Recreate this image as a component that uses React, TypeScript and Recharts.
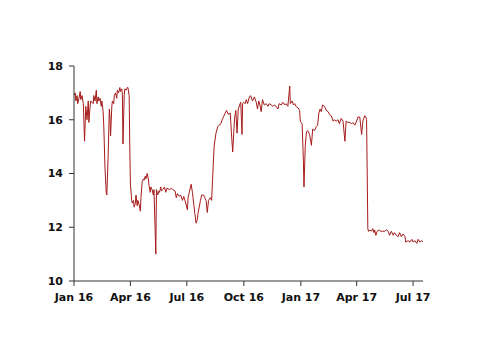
import React from 'react';
import { LineChart, Line, XAxis, YAxis } from 'recharts';

const obsDates = [
    '2016-01-01', '2016-01-03', '2016-01-04', '2016-01-06', '2016-01-07', '2016-01-09', '2016-01-11', '2016-01-12',
    '2016-01-14', '2016-01-16', '2016-01-18', '2016-01-20', '2016-01-22', '2016-01-24', '2016-01-25', '2016-01-27',
    '2016-01-28', '2016-02-01', '2016-02-02', '2016-02-04', '2016-02-06', '2016-02-07', '2016-02-09', '2016-02-10',
    '2016-02-12', '2016-02-14', '2016-02-15', '2016-02-17', '2016-02-18', '2016-02-20', '2016-02-22', '2016-02-23',
    '2016-02-25', '2016-02-27', '2016-02-28', '2016-02-29', '2016-03-02', '2016-03-03', '2016-03-05', '2016-03-06',
    '2016-03-08', '2016-03-10', '2016-03-11', '2016-03-13', '2016-03-15', '2016-03-16', '2016-03-18', '2016-03-19',
    '2016-03-20', '2016-03-22', '2016-03-23', '2016-03-25', '2016-03-27', '2016-03-28', '2016-03-30', '2016-03-31',
    '2016-04-01', '2016-04-03',
    '2016-04-04', '2016-04-06', '2016-04-07', '2016-04-09', '2016-04-10', '2016-04-12', '2016-04-13', '2016-04-15',
    '2016-04-17', '2016-04-18', '2016-04-20', '2016-04-22', '2016-04-23', '2016-04-25', '2016-04-26', '2016-04-28',
    '2016-04-30', '2016-05-01', '2016-05-03', '2016-05-04', '2016-05-06', '2016-05-08', '2016-05-09', '2016-05-12',
    '2016-05-13', '2016-05-15', '2016-05-17', '2016-05-18', '2016-05-20', '2016-05-21', '2016-05-23', '2016-05-26',
    '2016-05-28', '2016-05-30', '2016-06-03', '2016-06-06', '2016-06-09', '2016-06-12', '2016-06-14', '2016-06-16',
    '2016-06-19', '2016-06-21', '2016-06-24', '2016-06-26', '2016-06-28', '2016-07-02', '2016-07-03',
    '2016-07-05', '2016-07-08', '2016-07-10', '2016-07-11', '2016-07-14', '2016-07-16', '2016-07-18', '2016-07-19',
    '2016-07-21', '2016-07-23', '2016-07-25', '2016-07-28', '2016-07-30', '2016-08-01', '2016-08-03', '2016-08-05',
    '2016-08-08', '2016-08-10', '2016-08-12', '2016-08-14', '2016-08-17', '2016-08-20', '2016-08-22', '2016-08-25',
    '2016-08-27', '2016-08-29', '2016-09-01', '2016-09-03', '2016-09-06', '2016-09-09', '2016-09-11', '2016-09-13',
    '2016-09-16', '2016-09-18', '2016-09-20', '2016-09-22', '2016-09-25', '2016-09-26', '2016-09-28', '2016-09-29',
    '2016-10-01', '2016-10-03', '2016-10-05', '2016-10-07', '2016-10-10', '2016-10-12', '2016-10-15', '2016-10-18',
    '2016-10-21', '2016-10-23', '2016-10-25', '2016-10-27', '2016-10-29', '2016-10-31', '2016-11-03', '2016-11-06',
    '2016-11-09', '2016-11-11', '2016-11-14', '2016-11-17', '2016-11-19', '2016-11-22', '2016-11-25', '2016-11-27',
    '2016-11-30', '2016-12-03', '2016-12-06', '2016-12-08', '2016-12-11', '2016-12-14', '2016-12-15', '2016-12-18',
    '2016-12-20', '2016-12-22', '2016-12-24', '2016-12-27', '2016-12-30', '2016-12-31',
    '2017-01-03', '2017-01-05', '2017-01-06', '2017-01-08', '2017-01-10', '2017-01-12', '2017-01-15', '2017-01-18',
    '2017-01-20', '2017-01-23', '2017-01-26', '2017-01-28', '2017-01-30', '2017-02-01', '2017-02-03', '2017-02-05',
    '2017-02-08', '2017-02-11', '2017-02-14', '2017-02-16', '2017-02-19', '2017-02-22', '2017-02-24', '2017-02-27',
    '2017-03-02', '2017-03-04', '2017-03-07', '2017-03-10', '2017-03-13', '2017-03-15', '2017-03-18', '2017-03-21',
    '2017-03-24', '2017-03-26', '2017-03-29', '2017-04-01', '2017-04-03', '2017-04-06', '2017-04-09', '2017-04-11',
    '2017-04-14', '2017-04-16',
    '2017-04-17', '2017-04-19', '2017-04-20', '2017-04-23', '2017-04-25', '2017-04-27', '2017-04-29', '2017-04-30',
    '2017-05-02', '2017-05-04', '2017-05-07', '2017-05-10', '2017-05-13', '2017-05-16', '2017-05-19', '2017-05-22',
    '2017-05-24', '2017-05-27', '2017-05-30', '2017-06-01', '2017-06-04', '2017-06-07', '2017-06-09', '2017-06-12',
    '2017-06-15', '2017-06-18', '2017-06-19', '2017-06-23', '2017-06-26', '2017-06-29', '2017-07-01', '2017-07-04',
    '2017-07-07', '2017-07-09', '2017-07-12', '2017-07-15', '2017-07-17',
];

const obsValues = [
    16.9, 17.0, 16.7, 16.9, 16.6, 16.8, 17.05, 16.75,
    16.9, 16.6, 15.2, 16.5, 16.0, 16.7, 15.9, 16.5,
    16.7, 16.6, 16.9, 16.7, 17.1, 16.6, 16.85, 16.7,
    16.8, 16.5, 16.7, 16.3, 15.8, 14.2, 13.3, 13.2,
    14.6, 16.4, 16.1, 15.4, 16.5, 16.7, 16.6, 16.9,
    17.0, 16.8, 17.1, 17.0, 17.2, 17.05, 17.15, 17.0,
    15.1, 16.9, 17.15, 17.1, 17.2, 17.2, 16.9, 15.0,
    13.6, 13.0,
    12.9, 13.0, 12.75, 12.9, 13.2, 12.8, 13.0, 12.85,
    12.6, 13.1, 13.7, 13.8, 13.75, 13.9, 13.8, 14.0,
    13.8, 13.55, 13.3, 13.5, 13.4, 13.2, 13.4, 11.0,
    13.4, 13.2, 13.35, 13.3, 13.5, 13.35, 13.4, 13.5,
    13.3, 13.45, 13.4, 13.45, 13.4, 13.35, 13.1, 13.25,
    13.15, 13.2, 13.0, 13.15, 13.0, 12.65, 13.1,
    13.3, 13.6, 13.3, 13.1, 12.5, 12.15, 12.3, 12.5,
    12.75, 13.0, 13.2, 13.2, 13.1, 13.0, 12.55, 13.0,
    13.1, 13.0, 14.0, 15.0, 15.5, 15.75, 15.8, 15.85,
    16.0, 16.1, 16.25, 16.35, 16.2, 16.25, 15.5, 14.8,
    16.05, 16.35, 15.5, 16.4, 16.6, 16.65, 15.45, 16.6,
    16.65, 16.6, 16.75, 16.6, 16.85, 16.9, 16.7, 16.85,
    16.65, 16.4, 16.7, 16.55, 16.3, 16.75, 16.55, 16.6,
    16.5, 16.6, 16.55, 16.5, 16.55, 16.5, 16.4, 16.6,
    16.55, 16.65, 16.55, 16.6, 16.5, 17.25, 16.6, 16.7,
    16.55, 16.6, 16.5, 16.45, 16.35, 15.95,
    15.85, 14.5, 13.5, 15.0, 15.55, 15.6, 15.45, 15.05,
    15.65, 15.6, 15.75, 15.8, 16.25, 16.4, 16.3, 16.55,
    16.5, 16.35, 16.3, 16.2, 16.15, 15.95, 16.0, 15.95,
    16.0, 15.85, 16.05, 15.95, 15.2, 15.95, 15.9, 15.9,
    15.85, 15.9, 15.8, 15.95, 16.1, 16.1, 15.45, 15.95,
    16.15, 16.1,
    16.0, 11.95, 11.85, 11.9, 11.85, 11.95, 11.8, 11.9,
    11.7, 11.85, 11.9, 11.85, 11.85, 11.85, 11.9, 11.85,
    11.7, 11.85, 11.7, 11.8, 11.7, 11.65, 11.8, 11.65,
    11.75, 11.65, 11.45, 11.5, 11.45, 11.55, 11.45, 11.5,
    11.4, 11.55, 11.45, 11.5, 11.45,
];

const tickDates = ['2016-01-01', '2016-04-01', '2016-07-01', '2016-10-01', '2017-01-01', '2017-04-01', '2017-07-01'];
const tickLabels = ['Jan 16', 'Apr 16', 'Jul 16', 'Oct 16', 'Jan 17', 'Apr 17', 'Jul 17'];
const yTicks = [10, 12, 14, 16, 18];
const xRange = ['2016-01-01', '2017-07-17'];

const toTime = (d: string) => Date.parse(d + 'T00:00:00Z');
const tickTimes = tickDates.map(toTime);
const data = obsDates.map((d, i) => ({ t: toTime(d), value: obsValues[i] }));

const tickStyle = { fill: '#111', fontSize: 11, fontWeight: 'bold', fontFamily: 'DejaVu Sans' };

export default function App() {
    return (
        <div style={{ width: 500, height: 354, background: '#fff' }}>
            <style>{'body { margin: 0; }'}</style>
            <LineChart width={500} height={354} data={data} margin={{ top: 66, right: 77, bottom: 43, left: 0 }}>
                <XAxis
                    dataKey="t"
                    type="number"
                    scale="time"
                    domain={[toTime(xRange[0]), toTime(xRange[1])]}
                    ticks={tickTimes}
                    interval={0}
                    tickFormatter={(v: number) => tickLabels[tickTimes.indexOf(v)] ?? ''}
                    stroke="#333"
                    tick={tickStyle}
                    tickSize={5}
                    tickMargin={7}
                    height={30}
                    allowDataOverflow
                />
                <YAxis
                    domain={[10, 18]}
                    ticks={yTicks}
                    interval={0}
                    stroke="#333"
                    tick={tickStyle}
                    tickSize={5}
                    tickMargin={6}
                    width={74}
                    allowDataOverflow
                />
                <Line
                    type="linear"
                    dataKey="value"
                    stroke="#a61b1b"
                    strokeWidth={1}
                    dot={false}
                    isAnimationActive={false}
                />
            </LineChart>
        </div>
    );
}
